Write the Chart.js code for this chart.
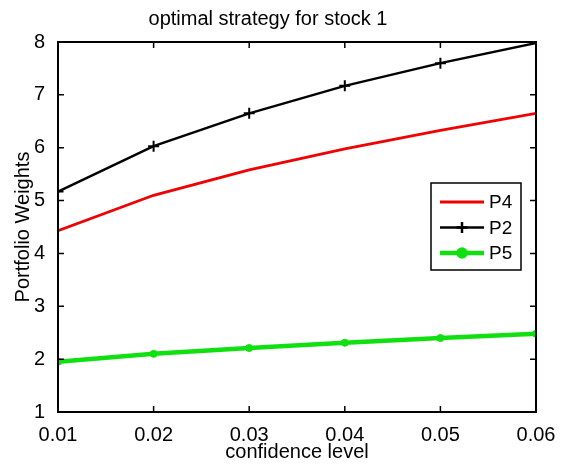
<!DOCTYPE html>
<html>
<head>
<meta charset="utf-8">
<script src="https://cdn.jsdelivr.net/npm/chart.js@4/dist/chart.umd.min.js"></script>
<style>
  html, body { margin: 0; padding: 0; background: #fff; }
  #wrap { width: 574px; height: 464px; }
</style>
</head>
<body>
<div id="wrap"><canvas id="c" width="574" height="464"></canvas></div>
<script>
// values
const levels = [0.01, 0.02, 0.03, 0.04, 0.05, 0.06];
const p4 = [4.43, 5.10, 5.58, 5.98, 6.33, 6.65];
const p2 = [5.17, 6.03, 6.65, 7.17, 7.60, 7.98];
const p5 = [1.95, 2.10, 2.21, 2.31, 2.40, 2.48];
const xTicks = [0.01, 0.02, 0.03, 0.04, 0.05, 0.06];
const yTicks = [1, 2, 3, 4, 5, 6, 7, 8];

const FONT = 'Liberation Sans, Arial, sans-serif';

const pts = arr => arr.map((v, i) => ({ x: levels[i], y: v }));

// MATLAB style box with inward ticks on all four sides
const boxPlugin = {
  id: 'box',
  afterDraw(chart) {
    const { ctx, chartArea: a, scales } = chart;
    ctx.save();
    ctx.strokeStyle = '#000';
    ctx.lineWidth = 2;
    ctx.strokeRect(a.left, a.top, a.right - a.left, a.bottom - a.top);
    ctx.lineWidth = 1.5;
    const len = 6;
    ctx.beginPath();
    xTicks.forEach(t => {
      const x = scales.x.getPixelForValue(t);
      ctx.moveTo(x, a.bottom); ctx.lineTo(x, a.bottom - len);
      ctx.moveTo(x, a.top); ctx.lineTo(x, a.top + len);
    });
    yTicks.forEach(t => {
      const y = scales.y.getPixelForValue(t);
      ctx.moveTo(a.left, y); ctx.lineTo(a.left + len, y);
      ctx.moveTo(a.right, y); ctx.lineTo(a.right - len, y);
    });
    ctx.stroke();
    ctx.restore();
  }
};

// legend box inside the plot, like matlab's
const legendPlugin = {
  id: 'boxLegend',
  afterDraw(chart) {
    const { ctx } = chart;
    const left = 431, top = 183, w = 90, h = 87;
    ctx.save();
    ctx.fillStyle = '#fff';
    ctx.fillRect(left, top, w, h);
    ctx.strokeStyle = '#000';
    ctx.lineWidth = 1.5;
    ctx.strokeRect(left, top, w, h);
    ctx.font = '19px ' + FONT;
    ctx.textBaseline = 'middle';
    chart.data.datasets.forEach((ds, i) => {
      const y = top + 19 + i * 25.5;
      ctx.strokeStyle = ds.borderColor;
      ctx.lineWidth = ds.borderWidth;
      ctx.beginPath();
      ctx.moveTo(left + 9, y); ctx.lineTo(left + 53, y);
      ctx.stroke();
      if (ds.pointRadius > 0) {
        Chart.helpers.drawPoint(ctx, {
          pointStyle: ds.pointStyle, radius: ds.pointRadius,
          borderWidth: ds.pointBorderWidth, rotation: 0
        }, left + 31, y);
        ctx.fillStyle = ds.pointBackgroundColor;
        ctx.strokeStyle = ds.pointBorderColor;
        ctx.fill();
      }
      ctx.fillStyle = '#000';
      ctx.fillText(ds.label, left + 58, y + 1);
    });
    ctx.restore();
  }
};

new Chart(document.getElementById('c'), {
  type: 'line',
  data: {
    datasets: [
      {
        label: 'P4', data: pts(p4),
        borderColor: '#f00000', borderWidth: 2.8,
        pointRadius: 0
      },
      {
        label: 'P2', data: pts(p2),
        borderColor: '#000', borderWidth: 2.5,
        pointStyle: 'cross', pointRadius: 5.5, pointBorderWidth: 2,
        pointBorderColor: '#000', pointBackgroundColor: '#000'
      },
      {
        label: 'P5', data: pts(p5),
        borderColor: '#10e010', borderWidth: 4.5,
        pointStyle: 'circle', pointRadius: 3.5, pointBorderWidth: 1,
        pointBorderColor: '#10e010', pointBackgroundColor: '#10e010'
      }
    ]
  },
  options: {
    responsive: false,
    animation: false,
    layout: { padding: { left: 0, right: 38, top: 0, bottom: 0 } },
    plugins: {
      legend: { display: false },
      tooltip: { enabled: false },
      title: {
        display: true,
        text: 'optimal strategy for stock 1',
        color: '#000',
        font: { family: FONT, size: 20, weight: 'normal' },
        padding: { top: 7, bottom: 11 }
      }
    },
    scales: {
      x: {
        type: 'linear', min: 0.01, max: 0.06,
        afterBuildTicks: s => { s.ticks = xTicks.map(v => ({ value: v })); },
        afterFit: s => { s.height = 52; },
        grid: { display: false }, border: { display: false },
        ticks: {
          color: '#000', padding: 3, maxRotation: 0,
          font: { family: FONT, size: 20 },
          callback: v => v.toFixed(2)
        },
        title: {
          display: true, text: 'confidence level', color: '#000',
          font: { family: FONT, size: 20 }, padding: { top: 0, bottom: 0 }
        }
      },
      y: {
        min: 1, max: 8,
        afterBuildTicks: s => { s.ticks = yTicks.map(v => ({ value: v })); },
        afterFit: s => { s.width = 58; },
        grid: { display: false }, border: { display: false },
        ticks: {
          color: '#000', padding: 5,
          font: { family: FONT, size: 20 }
        },
        title: {
          display: true, text: 'Portfolio Weights', color: '#000',
          font: { family: FONT, size: 20 }, padding: { top: 11, bottom: 0 }
        }
      }
    }
  },
  plugins: [boxPlugin, legendPlugin]
});
</script>
</body>
</html>
